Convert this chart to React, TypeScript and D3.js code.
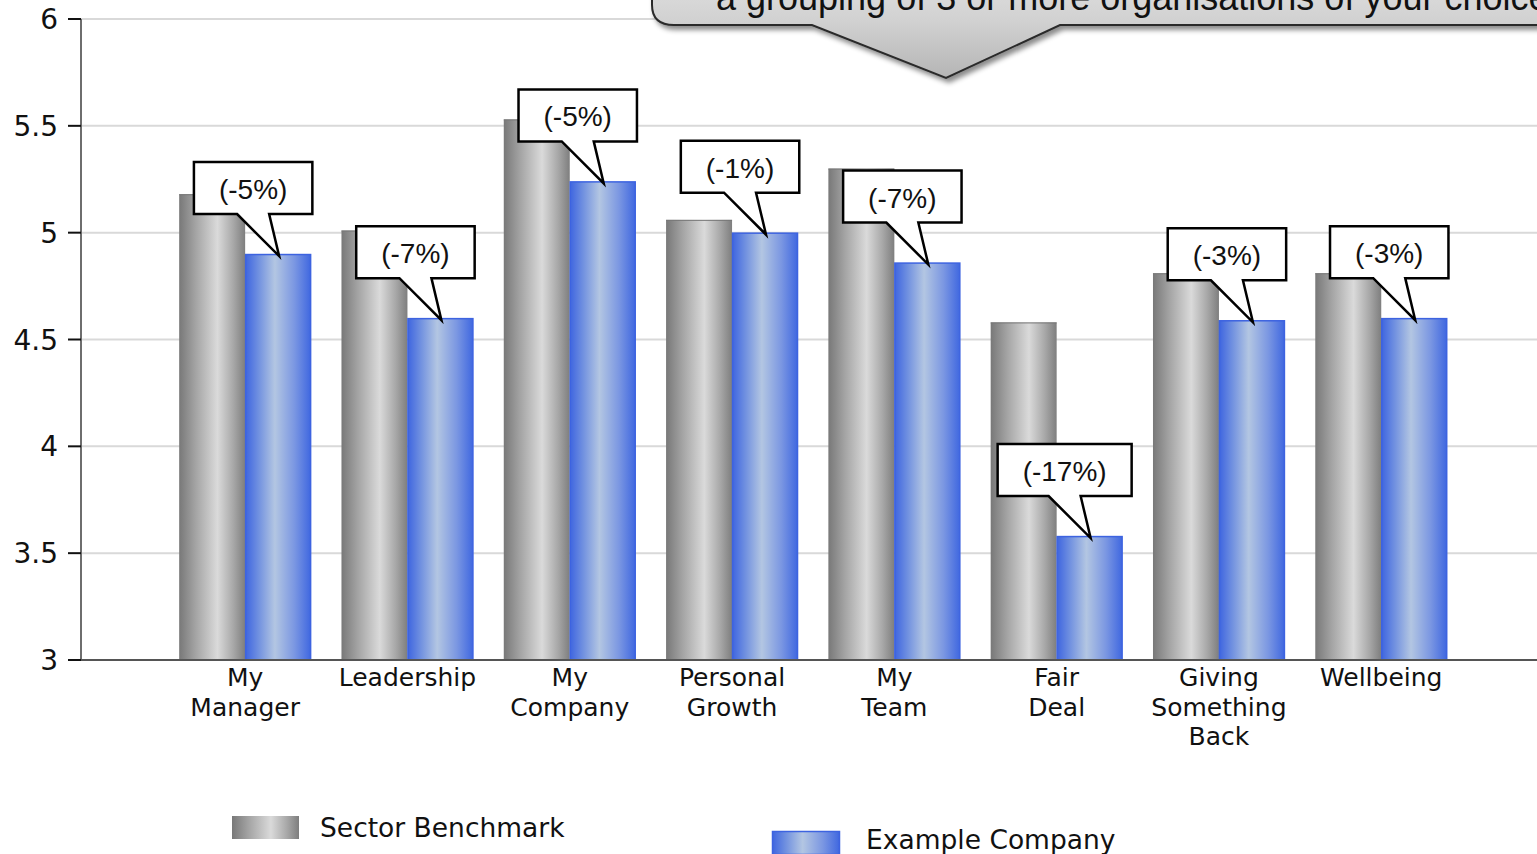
import React, { useMemo } from "react";
import * as d3 from "d3";

const categories = ["My\nManager", "Leadership", "My\nCompany", "Personal\nGrowth", "My\nTeam", "Fair\nDeal", "Giving\nSomething\nBack", "Wellbeing"];
const benchmark = [5.18, 5.01, 5.53, 5.06, 5.3, 4.58, 4.81, 4.81];
const company = [4.9, 4.6, 5.24, 5.0, 4.86, 3.58, 4.59, 4.6];
const diffLabels = ["(-5%)", "(-7%)", "(-5%)", "(-1%)", "(-7%)", "(-17%)", "(-3%)", "(-3%)"];
const seriesNames = ["Sector Benchmark", "Example Company"];
const yTicks = [3, 3.5, 4, 4.5, 5, 5.5, 6];
const bannerText = "a grouping of 3 or more organisations of your choice";

const W = 1537;
const H = 854;
const AX = "DejaVu Sans, Verdana, sans-serif";
const CALL = "Liberation Sans, Arial, sans-serif";

function measure(text: string, font: string): number {
  if (typeof document === "undefined") return text.length * 14;
  const c = document.createElement("canvas");
  const ctx = c.getContext("2d");
  if (!ctx) return text.length * 14;
  ctx.font = font;
  return ctx.measureText(text).width;
}

export default function App() {
  const y = d3.scaleLinear().domain([3, 6]).range([660, 19]);
  const x0 = d3.scaleBand<string>().domain(categories).range([164, 1462.4]).paddingInner(0.187).paddingOuter(0.0935);
  const x1 = d3.scaleBand<string>().domain(seriesNames).range([0, x0.bandwidth()]);
  const bw = x1.bandwidth();

  const calloutWidths = useMemo(() => diffLabels.map((t) => measure(t, `28px ${CALL}`) + 50), []);

  return (
    <svg width={W} height={H} style={{ position: "absolute", left: 0, top: 0, display: "block", background: "#fff" }}>
      <defs>
        <linearGradient id="gGrey" x1="0" x2="1" y1="0" y2="0">
          <stop offset="0" stopColor="#787878" />
          <stop offset="0.25" stopColor="#a4a4a4" />
          <stop offset="0.58" stopColor="#dadada" />
          <stop offset="0.82" stopColor="#a8a8a8" />
          <stop offset="1" stopColor="#7e7e7e" />
        </linearGradient>
        <linearGradient id="gBlue" x1="0" x2="1" y1="0" y2="0">
          <stop offset="0" stopColor="#3f66e0" />
          <stop offset="0.2" stopColor="#7191e0" />
          <stop offset="0.45" stopColor="#b3c6e2" />
          <stop offset="0.75" stopColor="#7b97e2" />
          <stop offset="1" stopColor="#4068e0" />
        </linearGradient>
        <linearGradient id="gBanner2" x1="0" y1="-60" x2="0" y2="80" gradientUnits="userSpaceOnUse">
          <stop offset="0" stopColor="#ececec" />
          <stop offset="0.6" stopColor="#d0d0d0" />
          <stop offset="1" stopColor="#b4b4b4" />
        </linearGradient>
        <filter id="shadow" x="-10%" y="-50%" width="130%" height="200%">
          <feDropShadow dx="3" dy="4" stdDeviation="2.5" floodColor="#000" floodOpacity="0.45" />
        </filter>
      </defs>

      {/* gridlines */}
      {yTicks.map((t) => (
        <line key={"g" + t} x1={81} x2={W} y1={y(t)} y2={y(t)} stroke="#d9d9d9" strokeWidth={2} />
      ))}

      {/* bars */}
      {categories.map((c, i) => {
        const gx = x0(c)!;
        return (
          <g key={c}>
            <rect x={gx + x1(seriesNames[0])!} y={y(benchmark[i])} width={bw} height={y(3) - y(benchmark[i])} fill="url(#gGrey)" />
            <line x1={gx + x1(seriesNames[0])!} x2={gx + x1(seriesNames[0])! + bw} y1={y(benchmark[i]) + 0.5} y2={y(benchmark[i]) + 0.5} stroke="#777" strokeWidth={1} />
            <rect x={gx + x1(seriesNames[1])! + 0.5} y={y(company[i]) + 0.5} width={bw - 1} height={y(3) - y(company[i]) - 0.5} fill="url(#gBlue)" stroke="#3d63e0" strokeWidth={1.5} />
          </g>
        );
      })}

      {/* axes */}
      <line x1={81} x2={81} y1={19} y2={661} stroke="#6e6e6e" strokeWidth={2} />
      <line x1={80} x2={W} y1={660} y2={660} stroke="#555" strokeWidth={2} />
      {yTicks.map((t) => (
        <g key={"t" + t}>
          <line x1={68} x2={81} y1={y(t)} y2={y(t)} stroke="#111" strokeWidth={2} />
          <text x={58} y={y(t)} dy="0.36em" textAnchor="end" fontFamily={AX} fontSize={28} fill="#111">
            {String(t)}
          </text>
        </g>
      ))}

      {/* category labels */}
      {categories.map((c) => {
        const cx = x0(c)! + x0.bandwidth() / 2;
        return (
          <text key={"l" + c} x={cx} y={686} textAnchor="middle" fontFamily={AX} fontSize={25} fill="#111">
            {c.split("\n").map((ln, k) => (
              <tspan key={k} x={cx} y={686 + k * 29.5}>
                {ln}
              </tspan>
            ))}
          </text>
        );
      })}

      {/* callouts */}
      {categories.map((c, i) => {
        const tipX = x0(c)! + x1(seriesNames[1])! + bw / 2 + 1;
        const tipY = y(company[i]) + 2;
        const w = calloutWidths[i];
        const h = 52;
        const bottom = tipY - 42;
        const top = bottom - h;
        const cx = tipX - 26;
        const left = cx - w / 2;
        const right = cx + w / 2;
        const p = `M${left},${top} L${right},${top} L${right},${bottom} L${tipX - 10},${bottom} L${tipX},${tipY} L${tipX - 42},${bottom} L${left},${bottom} Z`;
        return (
          <g key={"c" + c}>
            <path d={p} fill="#fff" stroke="#000" strokeWidth={2.5} strokeLinejoin="miter" />
            <text x={cx} y={top + 37} textAnchor="middle" fontFamily={CALL} fontSize={28} fill="#111">
              {diffLabels[i]}
            </text>
          </g>
        );
      })}

      {/* top banner callout */}
      <g filter="url(#shadow)">
        <path
          d="M652,-60 L652,5 Q652,25 674,25 L812,25 L946,78 L1060,25 L1620,25 L1620,-60 Z"
          fill="url(#gBanner2)"
          stroke="#2a2a2a"
          strokeWidth={2}
        />
      </g>
      <text x={716} y={10} fontFamily={CALL} fontSize={36} fill="#111">
        {bannerText}
      </text>

      {/* legend */}
      <rect x={232} y={816} width={67} height={23} fill="url(#gGrey)" />
      <text x={320} y={837} fontFamily={AX} fontSize={26.5} fill="#111">
        {seriesNames[0]}
      </text>
      <rect x={772.5} y={831.5} width={67} height={23} fill="url(#gBlue)" stroke="#3d63e0" strokeWidth={1.5} />
      <text x={866} y={849} fontFamily={AX} fontSize={26.5} fill="#111">
        {seriesNames[1]}
      </text>
    </svg>
  );
}
